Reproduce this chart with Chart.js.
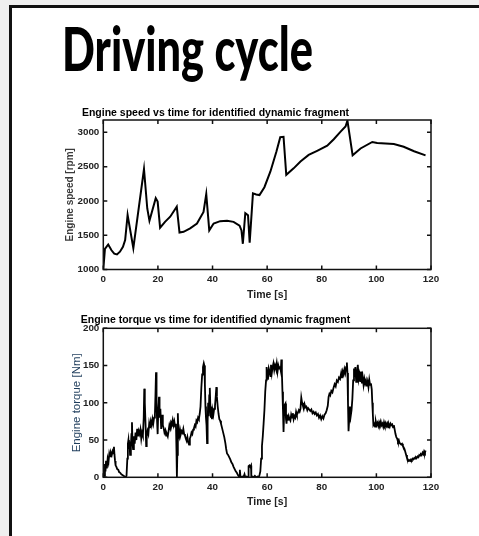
<!DOCTYPE html>
<html>
<head>
<meta charset="utf-8">
<script src="https://cdn.jsdelivr.net/npm/chart.js@4.4.0/dist/chart.umd.min.js"></script>
<style>
  html, body { margin: 0; padding: 0; }
  body { width: 479px; height: 536px; overflow: hidden; background: #efefef; position: relative; }
  .slide { position: absolute; left: 9px; top: 5px; width: 600px; height: 700px; background: #fff; border: 3px solid #111; }
  .heading { position: absolute; left: 62px; top: 17px; margin: 0; font-family: Lato, 'Open Sans', sans-serif; font-weight: 900; font-size: 61px; line-height: 1; color: #000; transform: scaleX(0.71); transform-origin: left top; white-space: nowrap; }
  .box { position: absolute; left: 0; width: 479px; }
</style>
</head>
<body>
<div class="slide"></div>
<h1 class="heading">Driving cycle</h1>
<div class="box" style="top:100px;height:210px"><canvas id="speedChart"></canvas></div>
<div class="box" style="top:300px;height:236px"><canvas id="torqueChart"></canvas></div>
<script>
// engine speed trace
const speedTime = [0, 0.6, 1.8, 3.0, 4.0, 5.0, 6.1, 7.2, 8.0, 8.9, 11.0, 14.9, 16.1, 16.9, 19.2, 19.9, 20.8, 22.6, 24.5, 26.9, 27.9, 29.4, 31.8, 34.3, 36.7, 37.7, 38.8, 40.4, 42.8, 45.3, 47.7, 49.9, 50.6, 51.1, 52.0, 53.0, 53.6, 54.8, 56.0, 57.2, 59.0, 61.2, 63.4, 64.8, 66.0, 67.0, 69.7, 72.2, 75.2, 78.3, 82.0, 84.4, 86.9, 88.7, 89.4, 91.3, 94.2, 98.5, 100.3, 106.4, 110.0, 113.8, 118.0];
const speedRpm = [1000, 1300, 1365, 1280, 1230, 1220, 1260, 1330, 1430, 1795, 1310, 2465, 1890, 1710, 2040, 1990, 1610, 1695, 1770, 1915, 1540, 1550, 1600, 1670, 1840, 2100, 1570, 1670, 1705, 1710, 1695, 1640, 1570, 1375, 1820, 1790, 1390, 2110, 2095, 2085, 2200, 2430, 2720, 2930, 2935, 2380, 2475, 2575, 2670, 2730, 2805, 2900, 3010, 3085, 3170, 2665, 2765, 2860, 2845, 2830, 2790, 2725, 2665];

// engine torque trace
const torqueTime = [
  0, 0.3, 0.6, 0.8, 1.0, 1.3, 1.6, 1.9, 2.2, 2.5,
  2.8, 3.1, 3.4, 3.7, 3.9, 4.1, 4.3, 4.5, 4.8, 5.1,
  5.5, 5.8, 6.2, 6.6, 7.0, 7.4, 7.8, 8.2, 8.5, 8.8,
  9.0, 9.2, 9.4, 9.6, 9.8, 10.1, 10.3, 10.5, 10.7, 10.9,
  11.2, 11.5, 11.8, 12.1, 12.4, 12.7, 13.0, 13.3, 13.6, 13.9,
  14.2, 14.5, 14.8, 15.0, 15.2, 15.5, 15.7, 15.9, 16.2, 16.5,
  16.8, 17.1, 17.4, 17.7, 18.0, 18.3, 18.6, 18.9, 19.1, 19.3,
  19.5, 19.7, 19.9, 20.1, 20.4, 20.6, 20.9, 21.2, 21.5, 21.8,
  22.1, 22.4, 22.7, 23.0, 23.3, 23.6, 23.9, 24.2, 24.5, 24.8,
  25.1, 25.4, 25.7, 26.0, 26.3, 26.6, 26.8, 26.95, 27.1, 27.3,
  27.5, 27.8, 28.1, 28.4, 28.7, 29.0, 29.3, 29.6, 29.9, 30.2,
  30.5, 30.8, 31.1, 31.4, 31.7, 32.0, 32.3, 32.6, 32.9, 33.2,
  33.5, 33.8, 34.1, 34.4, 34.7, 35.0, 35.3, 35.6, 35.9, 36.2,
  36.5, 36.8, 37.0, 37.2, 37.4, 37.6, 37.8, 38.0, 38.2, 38.4,
  38.6, 38.8, 39.0, 39.2, 39.4, 39.6, 39.8, 40.0, 40.3, 40.6,
  40.9, 41.2, 41.4, 41.6, 41.9, 42.2, 42.5, 42.8, 43.1, 43.5,
  43.9, 44.3, 44.7, 45.0, 45.3, 45.7, 46.1, 46.5, 46.9, 47.3,
  47.7, 48.1, 48.5, 48.9, 49.3, 49.7, 50.0, 50.2, 50.5, 50.9,
  51.3, 51.7, 52.0, 52.5, 53.0, 53.2, 53.5, 53.8, 54.1, 54.2,
  54.6, 55.0, 55.5, 56.0, 56.5, 56.9, 57.2, 57.5, 57.8, 58.1,
  58.4, 58.7, 59.0, 59.3, 59.6, 59.8, 60.0, 60.3, 60.6, 60.9,
  61.2, 61.4, 61.7, 62.0, 62.3, 62.6, 62.9, 63.2, 63.5, 63.8,
  64.1, 64.4, 64.7, 65.0, 65.2, 65.4, 65.6, 65.8, 66.0, 66.2,
  66.4, 66.7, 66.9, 67.1, 67.3, 67.6, 67.9, 68.2, 68.5, 68.8,
  69.1, 69.4, 69.7, 70.0, 70.3, 70.6, 70.9, 71.2, 71.6, 71.9,
  72.2, 72.5, 72.8, 73.1, 73.4, 73.7, 74.0, 74.3, 74.7, 75.0,
  75.4, 75.8, 76.2, 76.6, 77.0, 77.4, 77.8, 78.2, 78.6, 79.0,
  79.4, 79.8, 80.2, 80.6, 81.0, 81.4, 81.8, 82.2, 82.5, 82.8,
  83.1, 83.5, 83.9, 84.3, 84.7, 85.1, 85.5, 85.9, 86.3, 86.7,
  87.1, 87.4, 87.7, 88.0, 88.3, 88.6, 88.9, 89.2, 89.4, 89.6,
  89.8, 90.0, 90.3, 90.6, 90.9, 91.2, 91.5, 91.8, 92.0, 92.3,
  92.6, 92.9, 93.2, 93.5, 93.8, 94.1, 94.4, 94.7, 95.0, 95.3,
  95.6, 95.9, 96.2, 96.5, 96.8, 97.1, 97.4, 97.7, 98.0, 98.3,
  98.5, 98.7, 98.9, 99.2, 99.5, 99.8, 100.1, 100.4, 100.7, 101.0,
  101.3, 101.6, 101.9, 102.2, 102.5, 102.8, 103.1, 103.4, 103.7, 104.0,
  104.3, 104.6, 104.9, 105.2, 105.5, 105.8, 106.1, 106.4, 106.7, 107.0,
  107.3, 107.6, 107.9, 108.2, 108.5, 108.8, 109.1, 109.4, 109.7, 110.0,
  110.3, 110.6, 110.9, 111.2, 111.5, 111.8, 112.1, 112.4, 112.7, 113.0,
  113.3, 113.6, 113.9, 114.2, 114.5, 114.8, 115.1, 115.4, 115.7, 116.0,
  116.3, 116.6, 116.9, 117.2, 117.5, 117.8, 118.0
];
const torqueNm = [
  0, 2, 18, 8, 22, 12, 25, 20, 32, 28,
  33, 30, 35, 32, 41, 30, 22, 16, 14, 11,
  10, 7, 6, 4, 3, 2, 1, 0, 2, 25,
  45, 50, 38, 48, 30, 42, 58, 74, 45, 38,
  55, 45, 60, 50, 65, 55, 62, 58, 64, 52,
  60, 56, 80, 119, 100, 68, 42, 55, 62, 58,
  72, 66, 75, 70, 78, 72, 80, 84, 110, 141,
  100, 75, 58, 85, 108, 80, 92, 65, 84, 70,
  66, 60, 63, 56, 58, 55, 62, 70, 66, 74,
  72, 77, 70, 75, 68, 72, 35, 0, 30, 86,
  60, 55, 64, 58, 62, 60, 65, 58, 56, 52,
  49, 54, 47, 44, 52, 55, 60, 58, 64, 66,
  70, 68, 76, 74, 80, 78, 85, 95, 120, 138,
  148, 153, 150, 125, 95, 80, 70, 46, 75, 100,
  82, 110, 120, 95, 80, 85, 78, 90, 84, 92,
  96, 110, 121, 108, 95, 85, 78, 76, 72, 66,
  60, 54, 46, 38, 32, 30, 27, 24, 20, 18,
  14, 11, 8, 6, 3, 1, 10, 2, 0, 1,
  0, 4, 0, 1, 0, 15, 16, 14, 16, 0,
  1, 0, 2, 0, 1, 0, 3, 8, 25, 42,
  55, 72, 90, 115, 130, 148, 140, 131, 146, 142,
  136, 151, 140, 148, 153, 144, 150, 146, 153, 142,
  150, 146, 149, 143, 158, 140, 115, 90, 61, 85,
  97, 99, 78, 72, 84, 76, 82, 78, 76, 84,
  80, 86, 78, 82, 80, 88, 84, 86, 90, 88,
  92, 107, 100, 96, 92, 98, 94, 95, 90, 93,
  91, 89, 91, 86, 88, 85, 87, 83, 85, 80,
  83, 78, 82, 79, 84, 86, 90, 96, 108, 112,
  110, 116, 114, 120, 125, 122, 130, 128, 134, 132,
  140, 133, 142, 138, 145, 140, 148, 154, 140, 100,
  62, 75, 95, 82, 90, 105, 130, 146, 135, 148,
  128, 140, 151, 132, 138, 128, 142, 126, 134, 124,
  132, 126, 130, 122, 128, 121, 131, 124, 126, 118,
  100, 85, 70, 72, 68, 75, 70, 73, 69, 74,
  71, 75, 70, 72, 68, 74, 70, 73, 69, 72,
  67, 71, 68, 72, 70, 71, 67, 70, 64, 58,
  54, 52, 48, 50, 46, 45, 44, 45, 42, 40,
  38, 34, 30, 26, 24, 22, 23, 22, 24, 23,
  25, 24, 26, 25, 27, 26, 28, 27, 30, 29,
  31, 30, 33, 31, 35, 33, 36
];

// tick labels
const timeTicks = [0, 20, 40, 60, 80, 100, 120];
const speedTicks = [1000, 1500, 2000, 2500, 3000];
const torqueTicks = [0, 50, 100, 150, 200];

const tickFont = { family: "'Liberation Sans', Arial, sans-serif", size: 9.8, weight: 'bold' };

// matlab style box with inward ticks on all four sides
const matlabBox = {
    id: 'matlabBox',
    afterDraw(chart) {
        const { ctx, chartArea: a, scales: { x, y } } = chart;
        ctx.save();
        ctx.strokeStyle = '#111';
        ctx.lineWidth = 1.5;
        ctx.beginPath();
        x.ticks.forEach(t => {
            const px = x.getPixelForValue(t.value);
            ctx.moveTo(px, a.bottom); ctx.lineTo(px, a.bottom - 4);
            ctx.moveTo(px, a.top); ctx.lineTo(px, a.top + 4);
        });
        y.ticks.forEach(t => {
            const py = y.getPixelForValue(t.value);
            ctx.moveTo(a.left, py); ctx.lineTo(a.left + 4, py);
            ctx.moveTo(a.right, py); ctx.lineTo(a.right - 4, py);
        });
        ctx.stroke();
        ctx.strokeRect(a.left, a.top, a.right - a.left, a.bottom - a.top);
        ctx.restore();
    }
};

function makeChart(id, opt) {
    const ctx = document.getElementById(id).getContext('2d');
    return new Chart(ctx, {
        type: 'line',
        data: {
            datasets: [{
                data: opt.xs.map((t, i) => ({ x: t, y: opt.ys[i] })),
                borderColor: '#000',
                borderWidth: opt.lineWidth,
                pointRadius: 0,
                tension: 0,
                fill: false
            }]
        },
        options: {
            responsive: true,
            maintainAspectRatio: false,
            animation: false,
            layout: { padding: { left: 0, right: 48, top: 0, bottom: opt.padBottom } },
            plugins: {
                legend: { display: false },
                tooltip: { enabled: false },
                title: {
                    display: true,
                    text: opt.title,
                    color: '#000',
                    font: { family: "'Liberation Sans', Arial, sans-serif", size: 10.5, weight: 'bold', lineHeight: 1.2 },
                    padding: { top: opt.titleTop, bottom: opt.titleBottom }
                }
            },
            scales: {
                x: {
                    type: 'linear',
                    min: 0,
                    max: 120,
                    grid: { display: false, drawTicks: false },
                    border: { display: false },
                    afterBuildTicks: s => { s.ticks = timeTicks.map(v => ({ value: v })); },
                    afterFit: s => { s.height = 36; },
                    ticks: { color: '#222', font: tickFont, padding: 4, maxRotation: 0, callback: v => String(v) },
                    title: {
                        display: true,
                        text: 'Time [s]',
                        color: '#222',
                        font: { family: "'Liberation Sans', Arial, sans-serif", size: 10.5, weight: 'bold', lineHeight: 1.2 },
                        padding: { top: 0, bottom: opt.xTitlePad }
                    }
                },
                y: {
                    min: opt.yMin,
                    max: opt.yMax,
                    grid: { display: false, drawTicks: false },
                    border: { display: false },
                    afterBuildTicks: s => { s.ticks = opt.yTicks.map(v => ({ value: v })); },
                    afterFit: s => { s.width = 103.3; },
                    ticks: { color: '#222', font: tickFont, padding: 4, callback: v => String(v) },
                    title: {
                        display: true,
                        text: opt.yTitle,
                        color: opt.yTitleColor,
                        font: { family: "'Liberation Sans', Arial, sans-serif", size: opt.yTitleSize, weight: opt.yTitleWeight, lineHeight: 1.2 },
                        padding: { top: opt.yTitlePad, bottom: 0 }
                    }
                }
            }
        },
        plugins: [matlabBox]
    });
}

makeChart('speedChart', {
    xs: speedTime, ys: speedRpm, lineWidth: 2,
    title: 'Engine speed vs time for identified dynamic fragment',
    titleTop: 7.2, titleBottom: 0.2,
    padBottom: 4.5, xTitlePad: 4.2,
    yMin: 1000, yMax: 3180, yTicks: speedTicks,
    yTitle: 'Engine speed [rpm]', yTitleColor: '#3b3b3b', yTitleSize: 10, yTitleWeight: 'bold', yTitlePad: 64
});

makeChart('torqueChart', {
    xs: torqueTime, ys: torqueNm, lineWidth: 1.8,
    title: 'Engine torque vs time for identified dynamic fragment',
    titleTop: 13.7, titleBottom: 2,
    padBottom: 22.7, xTitlePad: 5.3,
    yMin: 0, yMax: 200, yTicks: torqueTicks,
    yTitle: 'Engine torque [Nm]', yTitleColor: '#1f3d5c', yTitleSize: 11.5, yTitleWeight: 'normal', yTitlePad: 69.8
});
</script>
</body>
</html>
